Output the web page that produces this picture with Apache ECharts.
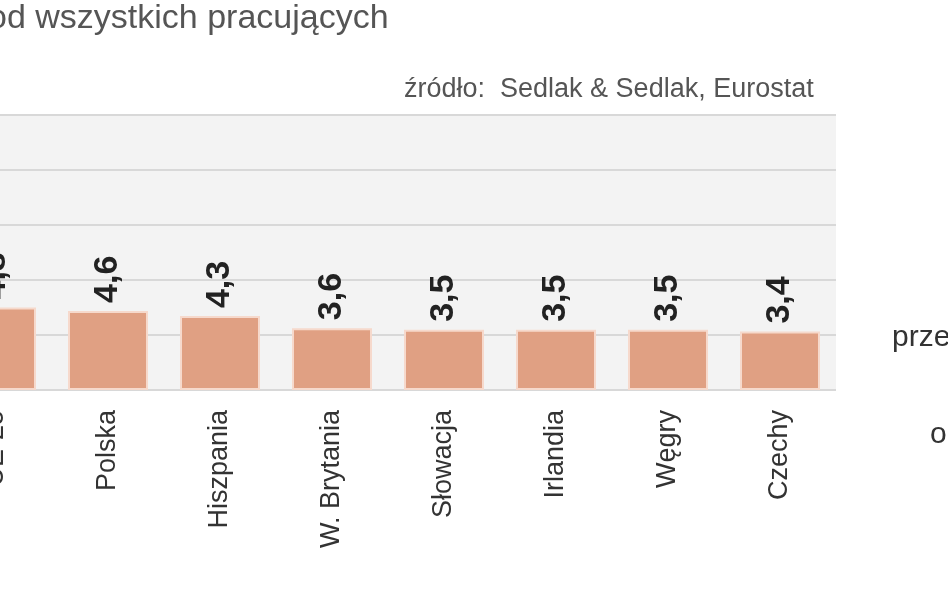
<!DOCTYPE html><html><head><meta charset="utf-8"><script src="https://cdn.jsdelivr.net/npm/echarts@6/dist/echarts.min.js"></script></head><body style="margin:0;background:#fff;overflow:hidden"><div id="c" style="width:1008px;height:593px;margin-left:-60px"></div><script>
const categories=['UE-25','Polska','Hiszpania','W. Brytania','Słowacja','Irlandia','Węgry','Czechy'];
const values=[4.8,4.6,4.3,3.6,3.5,3.5,3.5,3.4];
const c=echarts.init(document.getElementById('c'));
c.setOption({animation:false,
grid:{left:0,right:112,top:115,bottom:203,show:true,backgroundColor:'#f3f3f3',borderWidth:0},
xAxis:{type:'category',data:categories,axisLine:{show:false},axisTick:{show:false},
 axisLabel:{rotate:90,fontSize:27,color:'#333',fontFamily:'Liberation Sans Narrow, Arial Narrow, sans-serif',margin:20,interval:0}},
yAxis:{type:'value',min:0,max:16,interval:3.2,axisLabel:{show:false},axisLine:{show:false},axisTick:{show:false},splitLine:{lineStyle:{color:'#d8d8d8',width:2}}},
series:[{type:'bar',data:values,barWidth:80,itemStyle:{color:'#e0a083',borderColor:'#f6d9cc',borderWidth:2},
 label:{show:true,position:'top',rotate:90,align:'left',verticalAlign:'middle',distance:8,fontSize:34,fontWeight:'bold',color:'#222',fontFamily:'Liberation Sans Narrow, sans-serif',formatter:p=>String(p.value).replace('.',',')}}],
graphic:[
 {type:'text',left:48,top:2,style:{text:'od wszystkich pracujących',fontSize:34,fill:'#555',fontFamily:'Liberation Sans, sans-serif'}},
 {type:'text',left:464,top:76,style:{text:'źródło:  Sedlak & Sedlak, Eurostat',fontSize:27,fill:'#555',fontFamily:'Liberation Sans Narrow, sans-serif'}},
 {type:'text',left:952,top:323,style:{text:'prze',fontSize:30,fill:'#333',fontFamily:'Liberation Sans, sans-serif'}},
 {type:'text',left:990,top:420,style:{text:'o',fontSize:30,fill:'#333',fontFamily:'Liberation Sans, sans-serif'}}
]});
</script></body></html>
